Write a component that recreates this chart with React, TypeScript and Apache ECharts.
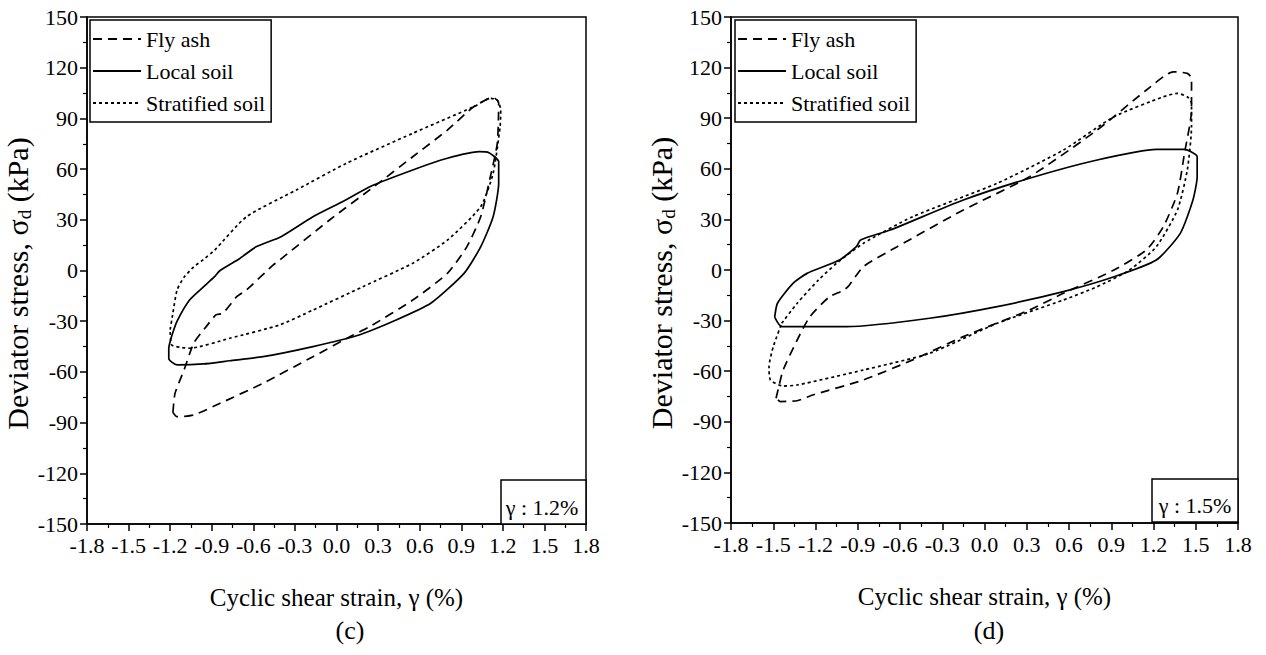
import React, { useEffect, useRef } from 'react';
import * as echarts from 'echarts';

const FONT = 'Liberation Serif';

const seriesNames = ['Fly ash', 'Local soil', 'Stratified soil'];
const panelLabels = ['(c)', '(d)'];
const strainNotes = ['γ : 1.2%', 'γ : 1.5%'];
const strainAxis = { min: -1.8, max: 1.8, interval: 0.3 };
const stressAxis = { min: -150, max: 150, interval: 30 };
const xAxisTitle = 'Cyclic shear strain, γ (%)';

// Panel (c): γ = 1.2 %
const flyAshC: number[][] = [
  [-1.18, -84], [-1.165, -72.7], [-1.1, -58.9], [-1.03, -43], [-0.94, -33.2], [-0.87, -26.3],
  [-0.82, -25.3], [-0.72, -15.5], [-0.65, -11.5], [-0.46, 3], [-0.41, 6.2], [-0.05, 29.9],
  [0.27, 49.6], [0.55, 67.3], [0.8, 83.1], [0.99, 96.9], [1.13, 102.5], [1.17, 98.9],
  [1.16, 75.3], [1.11, 55.5], [1.04, 31.8], [0.94, 14], [0.8, -1.7], [0.55, -17.5],
  [0.24, -33.2], [0.12, -38.2], [-0.17, -51], [-0.53, -66.7], [-0.84, -78.6], [-1.03, -85.5],
  [-1.15, -86.5], [-1.18, -84],
];
const localSoilC: number[][] = [
  [-1.19, -39], [-1.15, -30], [-1.06, -17.5], [-0.95, -9], [-0.88, -3.6], [-0.84, 0],
  [-0.7, 7], [-0.58, 14], [-0.4, 20], [-0.17, 31.8], [0.05, 41], [0.24, 49.6], [0.55, 59.5],
  [0.8, 66.4], [1.03, 70.3], [1.1, 69.7], [1.17, 64.4], [1.17, 51.6], [1.13, 31.8], [1.04, 14],
  [0.92, -1.7], [0.68, -19.4], [0.43, -29.3], [0.15, -38.5], [-0.17, -45], [-0.53, -51],
  [-0.77, -53.4], [-0.96, -55.3], [-1.15, -55.9], [-1.21, -52], [-1.21, -46], [-1.19, -39],
];
const stratifiedC: number[][] = [
  [-1.2, -35], [-1.18, -25], [-1.15, -11.5], [-1.1, -4], [-1.03, 2.2], [-0.96, 6.5],
  [-0.88, 12], [-0.65, 31.8], [-0.29, 47.6], [0.07, 63.4], [0.55, 81.2], [0.99, 96.9],
  [1.11, 101.9], [1.16, 100.9], [1.185, 95], [1.18, 85], [1.13, 57.5], [1.04, 37.7],
  [0.8, 18], [0.55, 4.3], [0.19, -9.6], [-0.17, -23.4], [-0.41, -32.2], [-0.77, -40.1],
  [-1.06, -46], [-1.13, -45.4], [-1.19, -44], [-1.2, -35],
];

// Panel (d): γ = 1.5 %
const flyAshD: number[][] = [
  [-1.48, -76], [-1.46, -69], [-1.43, -59.3], [-1.33, -41.5], [-1.24, -27.7], [-1.1, -15.8],
  [-1.0, -12], [-0.96, -9], [-0.86, 2], [-0.62, 13.8], [-0.15, 35.6], [0.32, 55.3],
  [0.8, 83], [1.15, 106.7], [1.34, 117.5], [1.44, 116.6], [1.47, 113.6], [1.47, 94.8],
  [1.42, 69.2], [1.37, 45.5], [1.27, 25.7], [1.15, 11.9], [0.92, 0], [0.56, -13.8],
  [0.32, -23.7], [-0.15, -39.5], [-0.51, -53.3], [-0.86, -65.2], [-1.22, -74.1],
  [-1.33, -77.5], [-1.45, -78], [-1.48, -76],
];
const localSoilD: number[][] = [
  [-1.49, -28], [-1.47, -19.7], [-1.36, -7.9], [-1.26, -2], [-1.03, 5.9], [-0.91, 13.8],
  [-0.88, 17.8], [-0.67, 23.7], [-0.15, 41.5], [0.32, 54.4], [0.8, 65.2], [1.22, 71.5],
  [1.42, 71.5], [1.51, 67.2], [1.51, 55.3], [1.48, 41.5], [1.39, 21.7], [1.22, 5.9],
  [0.92, -4], [0.56, -12.8], [0.09, -21.7], [-0.39, -28.6], [-0.98, -33.6], [-1.44, -33.6],
  [-1.49, -28],
];
const stratifiedD: number[][] = [
  [-1.44, -31.6], [-1.33, -19.7], [-1.18, -6], [-1.05, 4], [-0.86, 15.8], [-0.51, 31.6],
  [0.09, 51.4], [0.56, 71.1], [0.92, 90.9], [1.27, 102.7], [1.37, 104.7], [1.44, 102.7],
  [1.47, 98.8], [1.47, 85], [1.44, 59.3], [1.37, 35.6], [1.22, 13.8], [1.03, 0], [0.8, -9.9],
  [0.56, -17.8], [0.09, -31.6], [-0.39, -49.4], [-0.86, -59.3], [-1.33, -68.2], [-1.43, -68.8],
  [-1.52, -65.2], [-1.53, -57.3], [-1.5, -45.5], [-1.44, -31.6],
];

const panelData = [
  [flyAshC, localSoilC, stratifiedC],
  [flyAshD, localSoilD, stratifiedD],
];

const lineTypes: any[] = [[9, 6], 'solid', [3, 3]];

export default function App() {
  const ref = useRef<HTMLDivElement>(null);

  useEffect(() => {
    if (!ref.current) return;
    const chart = echarts.init(ref.current, undefined, { renderer: 'svg' });

    const grids = [
      { left: 87, top: 17, width: 499, height: 507 },
      { left: 731, top: 17, width: 507, height: 506 },
    ];

    const axisCommon = {
      axisLine: { onZero: false, lineStyle: { color: '#000', width: 1.5 } },
      axisTick: { show: true, inside: false, length: 7, lineStyle: { color: '#000', width: 1.5 } },
      minorTick: { show: true, splitNumber: 2, length: 4, lineStyle: { color: '#000', width: 1.2 } },
      splitLine: { show: false },
      minorSplitLine: { show: false },
    };

    const xAxes = grids.map((_, i) => ({
      type: 'value',
      gridIndex: i,
      min: strainAxis.min,
      max: strainAxis.max,
      interval: strainAxis.interval,
      ...axisCommon,
      axisLabel: {
        color: '#000',
        fontFamily: FONT,
        fontSize: 22,
        margin: 10,
        formatter: (v: number) => (Math.abs(v) < 1e-9 ? '0.0' : v.toFixed(1)),
      },
      name: xAxisTitle,
      nameLocation: 'middle',
      nameGap: 61,
      nameTextStyle: { color: '#000', fontFamily: FONT, fontSize: 25 },
    }));

    const yAxes = grids.map((_, i) => ({
      type: 'value',
      gridIndex: i,
      min: stressAxis.min,
      max: stressAxis.max,
      interval: stressAxis.interval,
      ...axisCommon,
      axisLabel: {
        color: '#000',
        fontFamily: FONT,
        fontSize: 22,
        margin: 9,
      },
      name: '{a|Deviator stress, σ}{b|d}{a| (kPa)}',
      nameLocation: 'middle',
      nameGap: 47,
      nameRotate: 90,
      nameTextStyle: {
        color: '#000',
        fontFamily: FONT,
        fontSize: 30,
        padding: [0, 26, 0, 0],
        rich: {
          a: { fontFamily: FONT, fontSize: 30, color: '#000' },
          b: { fontFamily: FONT, fontSize: 19, color: '#000', padding: [14, 0, 0, 0] },
        },
      },
    }));

    const series: any[] = [];
    panelData.forEach((panel, p) => {
      panel.forEach((data, s) => {
        series.push({
          type: 'line',
          name: seriesNames[s],
          xAxisIndex: p,
          yAxisIndex: p,
          data,
          symbol: 'none',
          showSymbol: false,
          smooth: 0.2,
          lineStyle: { color: '#000', width: 1.7, type: lineTypes[s] },
          itemStyle: { color: '#000' },
          z: 3,
        });
      });
    });

    const legendCommon = {
      orient: 'vertical',
      data: seriesNames,
      top: 20,
      borderColor: '#000',
      borderWidth: 1.5,
      padding: [8, 6, 8, 2],
      itemWidth: 48,
      itemHeight: 14,
      itemGap: 10,
      selectedMode: false,
      itemStyle: { opacity: 0 },
      textStyle: { color: '#000', fontFamily: FONT, fontSize: 22 },
    };

    const noteBoxes = [
      { x: 501, y: 480, w: 85, h: 44, tx: 542, ty: 507 },
      { x: 1152, y: 479, w: 86, h: 43, tx: 1195, ty: 505 },
    ];

    const graphic: any[] = [];
    noteBoxes.forEach((b, i) => {
      graphic.push({
        type: 'rect',
        shape: { x: b.x, y: b.y, width: b.w, height: b.h },
        style: { fill: '#fff', stroke: '#000', lineWidth: 1.5 },
        z: 10,
      });
      graphic.push({
        type: 'text',
        x: b.tx,
        y: b.ty,
        style: {
          text: strainNotes[i],
          fill: '#000',
          fontFamily: FONT,
          fontSize: 22,
          align: 'center',
          verticalAlign: 'middle',
        },
        z: 11,
      });
    });
    [
      { x: 350, y: 630 },
      { x: 989, y: 630 },
    ].forEach((pos, i) => {
      graphic.push({
        type: 'text',
        x: pos.x,
        y: pos.y,
        style: {
          text: panelLabels[i],
          fill: '#000',
          fontFamily: FONT,
          fontSize: 26,
          align: 'center',
          verticalAlign: 'middle',
        },
      });
    });

    chart.setOption({
      animation: false,
      backgroundColor: '#fff',
      textStyle: { fontFamily: FONT },
      grid: grids.map((g) => ({
        ...g,
        show: true,
        borderColor: '#000',
        borderWidth: 1.5,
        backgroundColor: 'transparent',
      })),
      xAxis: xAxes,
      yAxis: yAxes,
      legend: [
        { ...legendCommon, left: 90 },
        { ...legendCommon, left: 735 },
      ],
      series,
      graphic,
    });

    return () => chart.dispose();
  }, []);

  return (
    <div
      ref={ref}
      style={{ position: 'fixed', left: 0, top: 0, width: 1266, height: 655, background: '#fff' }}
    />
  );
}
